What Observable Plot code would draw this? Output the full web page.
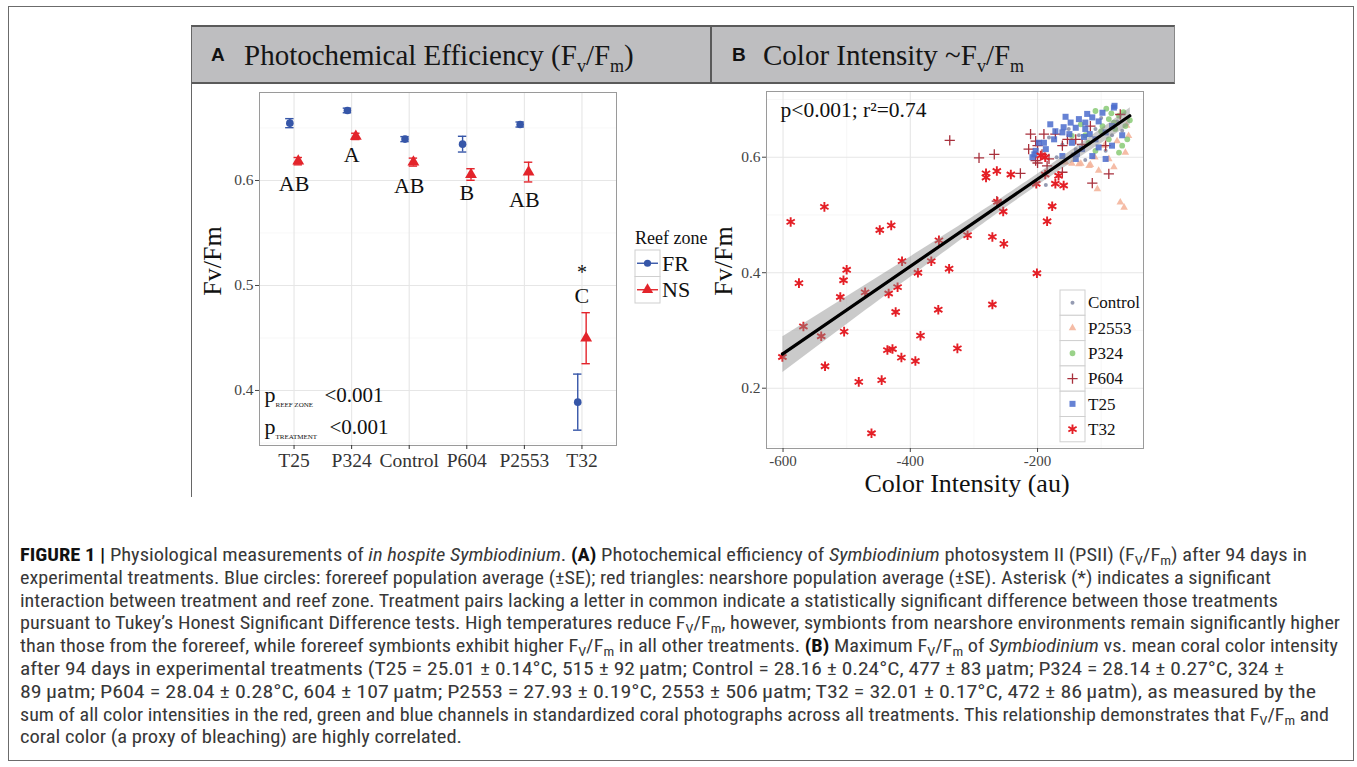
<!DOCTYPE html>
<html>
<head>
<meta charset="utf-8">
<script src="https://cdn.jsdelivr.net/npm/d3@7"></script>
<script src="https://cdn.jsdelivr.net/npm/@observablehq/plot@0.6"></script>
<style>
  html,body{margin:0;padding:0;background:#fff;}
  body{width:1357px;height:767px;position:relative;overflow:hidden;}
  .abs{position:absolute;}
  #frame{left:8px;top:6px;width:1346px;height:755px;border:1px solid #6b6b6b;box-sizing:border-box;}
  .hdr{position:absolute;top:25px;height:59px;background:#bebec0;border-top:2px solid #5a5a5a;border-bottom:2px solid #5a5a5a;box-sizing:border-box;}
  .htxt{position:absolute;top:40px;line-height:30px;font-family:"Liberation Serif","Times New Roman",serif;font-size:29px;color:#151515;white-space:nowrap;}
  .htxt sub{font-size:18px;vertical-align:-7px;line-height:0;}
  .hlab{position:absolute;top:40px;line-height:30px;font-family:"Liberation Sans",Arial,sans-serif;font-weight:bold;font-size:19px;color:#111;}
  #vline{left:191px;top:83px;width:1px;height:414px;background:#666;}
  .cap{position:absolute;left:20px;white-space:nowrap;font-family:"Liberation Sans Narrow","Roboto Condensed","Liberation Sans",Arial,sans-serif;font-size:18.5px;line-height:22.8px;color:#383838;transform-origin:0 0;}
  .cap b{color:#111;}
  .cap sub{font-size:13px;vertical-align:-4px;line-height:0;}
</style>
</head>
<body>
<div id="frame" class="abs"></div>
<div class="hdr" style="left:191px;width:520px;border-left:1px solid #666;"></div>
<div class="hdr" style="left:710px;width:465px;border-left:2px solid #5a5a5a;border-right:1px solid #888;"></div>
<div class="hlab" style="left:211px">A</div>
<div class="htxt" style="left:244px">Photochemical Efficiency (F<sub>v</sub>/F<sub>m</sub>)</div>
<div class="hlab" style="left:732px">B</div>
<div class="htxt" style="left:763px">Color Intensity ~F<sub>v</sub>/F<sub>m</sub></div>
<div id="vline" class="abs"></div>
<div id="plotA" class="abs" style="left:191px;top:83px"></div>
<div id="plotB" class="abs" style="left:710px;top:83px"></div>
<div id="caption"></div>
<script>
const serif = '"Liberation Serif","Times New Roman",Times,serif';

// ---------- Panel A data ----------
const treatments = ["T25", "P324", "Control", "P604", "P2553", "T32"];
const frMean = [0.6546, 0.6667, 0.6394, 0.6346, 0.6533, 0.3889];
const frSE   = [0.0043, 0.0022, 0.0024, 0.0075, 0.0024, 0.0267];
const nsMean = [0.6184, 0.6420, 0.6175, 0.6057, 0.6080, 0.4498];
const nsSE   = [0.0035, 0.0030, 0.0038, 0.0055, 0.0094, 0.0243];
const letters = ["AB", "A", "AB", "B", "AB", "C"];
const letterY = [0.597, 0.624, 0.595, 0.588, 0.581, 0.4905];
const starTreatment = "T32";
const starY = 0.512;
const zones = ["FR", "NS"];
const zoneColors = ["#3656a8", "#e3242b"];

// ---------- Panel B data ([color intensity, Fv/Fm]) ----------
const controlPts = [[-119,0.625],[-161,0.622],[-93,0.611],[-135,0.638],[-67,0.646],[-182,0.634],[-109,0.649],[-140,0.614],[-83,0.638],[-151,0.649],[-187,0.552],[-100,0.668],[-170,0.600],[-125,0.595],[-75,0.662],[-145,0.605]];
const p2553Pts = [[-132,0.589],[-117,0.587],[-104,0.577],[-80,0.583],[-106,0.545],[-70,0.522],[-64,0.513],[-146,0.589],[-88,0.597],[-135,0.588],[-62,0.608],[-156,0.591],[-119,0.585],[-57,0.637],[-75,0.628],[-95,0.620],[-60,0.655],[-110,0.600]];
const p324Pts = [[-109,0.680],[-88,0.666],[-72,0.672],[-78,0.649],[-62,0.654],[-88,0.631],[-67,0.620],[-98,0.654],[-125,0.638],[-59,0.631],[-72,0.608],[-109,0.611],[-146,0.637],[-132,0.657],[-100,0.645],[-80,0.660],[-120,0.625],[-65,0.678],[-92,0.684],[-55,0.664],[-84,0.676]];
const p604Pts = [[-211,0.640],[-190,0.640],[-172,0.640],[-200,0.620],[-193,0.605],[-203,0.594],[-182,0.597],[-185,0.585],[-161,0.620],[-140,0.631],[-117,0.654],[-130,0.622],[-93,0.620],[-70,0.674],[-153,0.631],[-203,0.628],[-214,0.614],[-227,0.572],[-161,0.574],[-88,0.571],[-114,0.555],[-200,0.590],[-338,0.629],[-292,0.599],[-268,0.605],[-264,0.524]];
const t25Pts = [[-80,0.686],[-156,0.670],[-180,0.657],[-135,0.666],[-114,0.669],[-98,0.677],[-140,0.651],[-125,0.649],[-161,0.643],[-174,0.631],[-203,0.611],[-208,0.600],[-187,0.614],[-146,0.625],[-109,0.631],[-93,0.643],[-83,0.654],[-130,0.614],[-114,0.602],[-104,0.617],[-83,0.620],[-161,0.602],[-140,0.597],[-93,0.597],[-198,0.625],[-67,0.638],[-125,0.660],[-148,0.660],[-159,0.652],[-127,0.635],[-138,0.606],[-205,0.605],[-172,0.645],[-118,0.640],[-79,0.689],[-104,0.662],[-150,0.640],[-190,0.625],[-122,0.675]];
const t32Pts = [[-588,0.488],[-535,0.514],[-575,0.382],[-568,0.307],[-601,0.254],[-540,0.290],[-534,0.238],[-510,0.358],[-505,0.387],[-500,0.405],[-504,0.298],[-481,0.211],[-461,0.122],[-448,0.474],[-430,0.482],[-445,0.214],[-434,0.364],[-420,0.375],[-423,0.332],[-436,0.266],[-428,0.268],[-414,0.253],[-413,0.420],[-392,0.247],[-388,0.400],[-384,0.291],[-367,0.420],[-355,0.456],[-356,0.336],[-339,0.407],[-326,0.269],[-310,0.465],[-271,0.462],[-271,0.345],[-253,0.450],[-254,0.506],[-264,0.576],[-281,0.572],[-281,0.565],[-242,0.570],[-263,0.523],[-201,0.399],[-202,0.554],[-188,0.570],[-185,0.489],[-177,0.515],[-172,0.554],[-167,0.568],[-159,0.551],[-188,0.600],[-195,0.603],[-471,0.366]];
const bNames = ["Control", "P2553", "P324", "P604", "T25", "T32"];
const bPts = [controlPts, p2553Pts, p324Pts, p604Pts, t25Pts, t32Pts];
const bStats = "p<0.001; r²=0.74";

// ---------- styles per series ----------
const bStyle = {
  Control: {symbol: "circle", r: 2.0, fill: "#8a90aa", stroke: "none", sw: 0, op: 0.9},
  P2553: {symbol: "triangle", r: 2.8, fill: "#f4b59c", stroke: "none", sw: 0, op: 0.9},
  P324: {symbol: "circle", r: 2.9, fill: "#8fcd7c", stroke: "none", sw: 0, op: 0.9},
  P604: {symbol: "plus", r: 3.4, fill: "none", stroke: "#a8303c", sw: 1.3, op: 1},
  T25: {symbol: "square", r: 3.4, fill: "#4b6ccc", stroke: "none", sw: 0, op: 0.85},
  T32: {symbol: "asterisk", r: 4.5, fill: "none", stroke: "#e41f26", sw: 1.9, op: 1}
};

// ---------- Panel A ----------
const dodge = 0.073, capW = 0.073;
const idx = treatments.map((d, i) => i + 1);
const zoneRows = zones.map((z, k) => treatments.map((t, i) => ({
  t, zone: z, x: i + 1 + (k === 0 ? -dodge : dodge),
  m: (k === 0 ? frMean : nsMean)[i], se: (k === 0 ? frSE : nsSE)[i]
})));
const letterRows = treatments.map((t, i) => ({x: i + 1, y: letterY[i], s: letters[i]}));
const starRows = [{x: treatments.indexOf(starTreatment) + 1, y: starY, s: "*"}];

function errMarks(rows, color) {
  return [
    Plot.ruleX(rows, {x: "x", y1: d => d.m - d.se, y2: d => d.m + d.se, stroke: color, strokeWidth: 1.4}),
    Plot.ruleY(rows, {y: d => d.m - d.se, x1: d => d.x - capW, x2: d => d.x + capW, stroke: color, strokeWidth: 1.4}),
    Plot.ruleY(rows, {y: d => d.m + d.se, x1: d => d.x - capW, x2: d => d.x + capW, stroke: color, strokeWidth: 1.4})
  ];
}

const gridMajor = {stroke: "#e6e6e6", strokeOpacity: 1, strokeWidth: 1.1};
const gridMinor = {stroke: "#f3f3f3", strokeOpacity: 1, strokeWidth: 0.7};
const pText = {text: d => d, frameAnchor: "bottom-left", textAnchor: "start", lineAnchor: "bottom", fill: "#111"};

const plotA = Plot.plot({
  width: 430, height: 414,
  marginLeft: 68, marginRight: 5, marginTop: 9, marginBottom: 52,
  x: {domain: [0.4, 6.6], axis: null},
  y: {domain: [0.3476, 0.6838], axis: null},
  style: {fontFamily: serif, background: "transparent", color: "#222"},
  marks: [
    Plot.gridY([0.35, 0.45, 0.55, 0.65], gridMinor),
    Plot.gridY([0.4, 0.5, 0.6], gridMajor),
    Plot.gridX(idx, gridMajor),
    Plot.frame({stroke: "#9a9a9a"}),
    Plot.axisY({ticks: [0.4, 0.5, 0.6], tickFormat: d3.format(".1f"), tickSize: 4, tickPadding: 2, fontSize: 15.5, color: "#444", label: null}),
    Plot.axisX({ticks: idx, tickFormat: i => treatments[i - 1], tickSize: 4, tickPadding: 4, fontSize: 19.5, color: "#333", label: null}),
    Plot.text(["Fv/Fm"], {text: d => d, frameAnchor: "left", textAnchor: "middle", lineAnchor: "middle", rotate: -90, dx: -47, dy: -8, fontSize: 26, fill: "#111"}),
    ...errMarks(zoneRows[0], zoneColors[0]),
    ...errMarks(zoneRows[1], zoneColors[1]),
    Plot.dot(zoneRows[0], {x: "x", y: "m", symbol: "circle", r: 3.8, fill: zoneColors[0]}),
    Plot.dot(zoneRows[1], {x: "x", y: "m", symbol: "triangle", r: 4.4, fill: zoneColors[1]}),
    Plot.text(letterRows, {x: "x", y: "y", text: "s", fontSize: 22, fill: "#111", lineAnchor: "middle"}),
    Plot.text(starRows, {x: "x", y: "y", text: "s", fontSize: 20, fill: "#111", lineAnchor: "middle"}),
    Plot.text(["p"], {...pText, dx: 5, dy: -44, fontSize: 22}),
    Plot.text(["REEF ZONE"], {...pText, dx: 16, dy: -39, fontSize: 7, letterSpacing: 1.2}),
    Plot.text(["<0.001"], {...pText, dx: 65, dy: -44, fontSize: 21}),
    Plot.text(["p"], {...pText, dx: 5, dy: -12, fontSize: 22}),
    Plot.text(["TREATMENT"], {...pText, dx: 16, dy: -7, fontSize: 7, letterSpacing: 0.9}),
    Plot.text(["<0.001"], {...pText, dx: 70, dy: -12, fontSize: 21})
  ]
});
document.getElementById("plotA").appendChild(plotA);

// ---------- Panel B ----------
const bRows = bNames.flatMap((n, k) => bPts[k].map(([x, y]) => ({trt: n, x, y})));
const dotMarks = bNames.map(n => {
  const s = bStyle[n];
  return Plot.dot(bRows.filter(d => d.trt === n), {
    x: "x", y: "y", symbol: s.symbol, r: s.r, fill: s.fill, stroke: s.stroke,
    strokeWidth: s.sw, fillOpacity: s.op
  });
});
const plotB = Plot.plot({
  width: 465, height: 414,
  marginLeft: 56, marginRight: 32, marginTop: 8, marginBottom: 49,
  x: {domain: [-626, -33.5], axis: null},
  y: {domain: [0.0956, 0.7138], axis: null},
  style: {fontFamily: serif, background: "transparent", color: "#222"},
  marks: [
    Plot.gridX([-500, -300, -100], gridMinor),
    Plot.gridY([0.1, 0.3, 0.5, 0.7], gridMinor),
    Plot.gridX([-600, -400, -200], gridMajor),
    Plot.gridY([0.2, 0.4, 0.6], gridMajor),
    Plot.frame({stroke: "#9a9a9a"}),
    Plot.axisX({ticks: [-600, -400, -200], tickFormat: d => String(d), tickSize: 4, tickPadding: 3, fontSize: 15, color: "#444", label: null}),
    Plot.axisY({ticks: [0.2, 0.4, 0.6], tickFormat: d3.format(".1f"), tickSize: 4, tickPadding: 2, fontSize: 15.5, color: "#444", label: null}),
    Plot.text(["Color Intensity (au)"], {text: d => d, frameAnchor: "bottom", lineAnchor: "middle", dx: 12, dy: 35, fontSize: 26, fill: "#111"}),
    Plot.text(["Fv/Fm"], {text: d => d, frameAnchor: "left", textAnchor: "middle", lineAnchor: "middle", rotate: -90, dx: -43, dy: -9, fontSize: 26, fill: "#111"}),
    ...dotMarks,
    Plot.linearRegressionY(bRows, {x: "x", y: "y", stroke: "#000", strokeWidth: 3.2, fill: "#8a8a8a", fillOpacity: 0.45, ci: 0.95}),
    Plot.text([bStats], {text: d => d, frameAnchor: "top-left", textAnchor: "start", lineAnchor: "middle", dx: 14, dy: 19, fontSize: 21.5, fill: "#111"})
  ]
});
document.getElementById("plotB").appendChild(plotB);

// ---------- Legends ----------
const d3sym = {circle: d3.symbolCircle, triangle: d3.symbolTriangle, square: d3.symbolSquare, plus: d3.symbolPlus, asterisk: d3.symbolAsterisk};

const legA = d3.select("body").append("svg").attr("class", "abs")
  .style("left", "625px").style("top", "225px").attr("width", 100).attr("height", 85)
  .style("font-family", serif);
legA.append("text").attr("x", 10).attr("y", 19).attr("font-size", 18).attr("fill", "#111").text("Reef zone");
zones.forEach((z, k) => {
  const y0 = 25 + k * 26.5, cy = y0 + 13.25;
  legA.append("rect").attr("x", 10).attr("y", y0).attr("width", 25).attr("height", 26.5).attr("fill", "#fff").attr("stroke", "#cfcfcf");
  legA.append("line").attr("x1", 12).attr("x2", 33).attr("y1", cy).attr("y2", cy).attr("stroke", zoneColors[k]).attr("stroke-width", 1.4);
  legA.append("path").attr("transform", `translate(22.5,${cy})`)
    .attr("d", d3.symbol(k === 0 ? d3.symbolCircle : d3.symbolTriangle, Math.PI * (k === 0 ? 3.6 : 4.2) ** 2)())
    .attr("fill", zoneColors[k]);
  legA.append("text").attr("x", 37).attr("y", cy).attr("dy", "0.34em").attr("font-size", 22).attr("fill", "#111").text(z);
});

const legB = d3.select("body").append("svg").attr("class", "abs")
  .style("left", "1055px").style("top", "285px").attr("width", 110).attr("height", 165)
  .style("font-family", serif);
bNames.forEach((n, k) => {
  const s = bStyle[n];
  const y0 = 5 + k * 25.3, cy = y0 + 12.65;
  legB.append("rect").attr("x", 5).attr("y", y0).attr("width", 25).attr("height", 25.3).attr("fill", "#fff").attr("stroke", "#cfcfcf");
  legB.append("path").attr("transform", `translate(17.5,${cy})`)
    .attr("d", d3.symbol(d3sym[s.symbol], Math.PI * s.r * s.r)())
    .attr("fill", s.fill).attr("fill-opacity", s.op).attr("stroke", s.stroke).attr("stroke-width", s.sw);
  legB.append("text").attr("x", 33).attr("y", cy).attr("dy", "0.34em").attr("font-size", 17).attr("fill", "#111").text(n);
});

// ---------- Caption ----------
const FvFm = 'F<sub>V</sub>/F<sub>m</sub>';
const captionLines = [
  `<b>FIGURE 1 |</b> Physiological measurements of <i>in hospite Symbiodinium</i>. <b>(A)</b> Photochemical efficiency of <i>Symbiodinium</i> photosystem II (PSII) (${FvFm}) after 94 days in`,
  `experimental treatments. Blue circles: forereef population average (±SE); red triangles: nearshore population average (±SE). Asterisk (*) indicates a significant`,
  `interaction between treatment and reef zone. Treatment pairs lacking a letter in common indicate a statistically significant difference between those treatments`,
  `pursuant to Tukey’s Honest Significant Difference tests. High temperatures reduce ${FvFm}, however, symbionts from nearshore environments remain significantly higher`,
  `than those from the forereef, while forereef symbionts exhibit higher ${FvFm} in all other treatments. <b>(B)</b> Maximum ${FvFm} of <i>Symbiodinium</i> vs. mean coral color intensity`,
  `after 94 days in experimental treatments (T25 = 25.01 ± 0.14°C, 515 ± 92&#8201;µatm; Control = 28.16 ± 0.24°C, 477 ± 83&#8201;µatm; P324 = 28.14 ± 0.27°C, 324 ±`,
  `89&#8201;µatm; P604 = 28.04 ± 0.28°C, 604 ± 107&#8201;µatm; P2553 = 27.93 ± 0.19°C, 2553 ± 506&#8201;µatm; T32 = 32.01 ± 0.17°C, 472 ± 86&#8201;µatm), as measured by the`,
  `sum of all color intensities in the red, green and blue channels in standardized coral photographs across all treatments. This relationship demonstrates that ${FvFm} and`,
  `coral color (a proxy of bleaching) are highly correlated.`
];
const captionWidths = [1287, 1251, 1258, 1320, 1318, 1264, 1296, 1309, 442];
const capDiv = document.getElementById("caption");
captionLines.forEach((html, i) => {
  const el = document.createElement("div");
  el.className = "cap";
  el.style.top = (544 + i * 22.8) + "px";
  el.innerHTML = html;
  capDiv.appendChild(el);
  const w = el.getBoundingClientRect().width;
  el.style.transform = `scaleX(${captionWidths[i] / w})`;
});
</script>
</body>
</html>
